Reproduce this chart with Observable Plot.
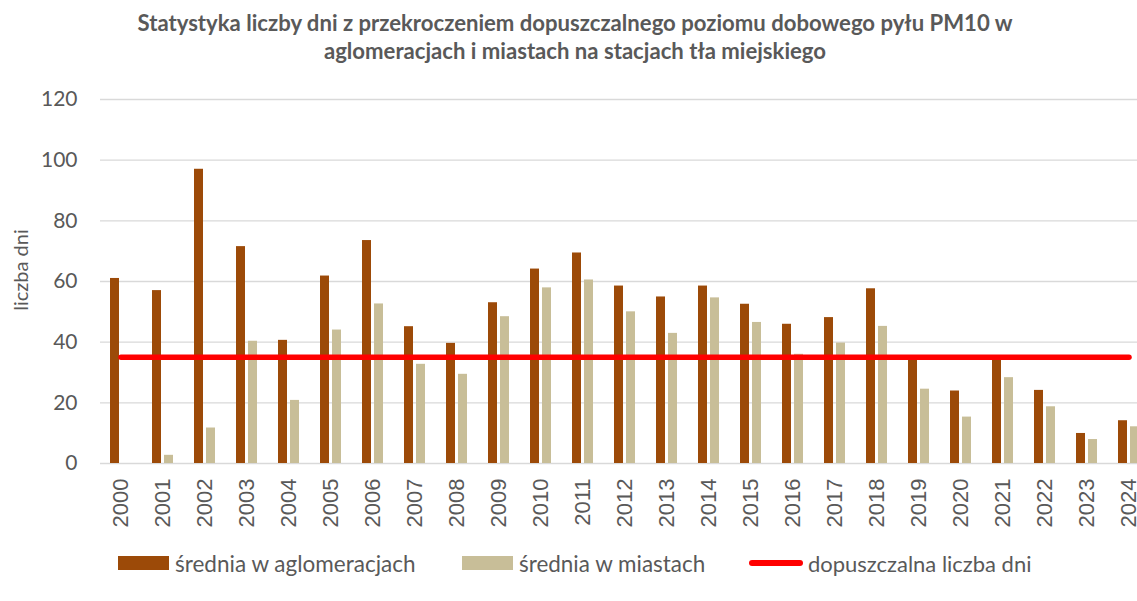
<!DOCTYPE html>
<html>
<head>
<meta charset="utf-8">
<script src="https://cdn.jsdelivr.net/npm/d3@7"></script>
<script src="https://cdn.jsdelivr.net/npm/@observablehq/plot@0.6"></script>
<style>
  html, body { margin: 0; padding: 0; overflow: hidden; background: #fff; width: 1137px; height: 601px; }
  #wrap { position: relative; width: 1137px; height: 601px; font-family: Lato, "Open Sans", sans-serif; color: #595959; overflow: hidden; }
  #title { position: absolute; left: 0; top: 9px; width: 1150px; text-align: center; font-weight: bold; font-size: 21px; line-height: 28px; }
  #title span { display: inline-block; white-space: nowrap; }
  #chart { position: absolute; left: 0; top: 70px; width: 1150px; }
  #chart svg { max-width: none !important; }
  #ylabel { position: absolute; left: -80px; top: 255px; width: 200px; height: 30px; line-height: 30px; text-align: center; white-space: nowrap; font-size: 20px; transform: rotate(-90deg); transform-origin: 100px 15px; }
  .leg { position: absolute; top: 551px; height: 24px; display: flex; align-items: center; font-size: 21px; white-space: nowrap; }
  .leg span { display: inline-block; }
  .sw { width: 51px; height: 14px; margin-right: 6px; flex: none; }
  .ln { width: 54px; height: 6px; border-radius: 3px; background: #ff0000; margin-right: 5px; flex: none; }
</style>
</head>
<body>
<div id="wrap">
  <div id="title"><span id="t1">Statystyka liczby dni z przekroczeniem dopuszczalnego poziomu dobowego pyłu PM10 w</span><br><span id="t2">aglomeracjach i miastach na stacjach tła miejskiego</span></div>
  <div id="chart"></div>
  <div id="ylabel">liczba dni</div>
  <div class="leg" style="left:118px"><div class="sw" style="background:#9C4A08"></div><span id="l1"></span></div>
  <div class="leg" style="left:462px"><div class="sw" style="background:#C8BE98"></div><span id="l2"></span></div>
  <div class="leg" style="left:749px"><div class="ln"></div><span id="l3"></span></div>
</div>
<script>
const years = [2000, 2001, 2002, 2003, 2004, 2005, 2006, 2007, 2008, 2009, 2010, 2011, 2012,
               2013, 2014, 2015, 2016, 2017, 2018, 2019, 2020, 2021, 2022, 2023, 2024];
const sredniaAglomeracje = [61, 57, 97, 71.5, 40.6, 61.8, 73.5, 45.1, 39.6, 53, 64.1, 69.4, 58.5,
                            54.9, 58.5, 52.5, 45.9, 48.1, 57.6, 35, 23.9, 35, 24.1, 9.9, 14.1];
const sredniaMiasta = [null, 2.7, 11.7, 40.3, 20.8, 44, 52.6, 32.7, 29.4, 48.4, 57.9, 60.5, 50,
                       42.9, 54.6, 46.5, 36, 39.7, 45.2, 24.5, 15.3, 28.3, 18.7, 7.9, 12.1];
const dopuszczalna = 35;
const yTicks = [0, 20, 40, 60, 80, 100, 120];
const seriesNames = ["średnia w aglomeracjach", "średnia w miastach", "dopuszczalna liczba dni"];

document.getElementById("l1").textContent = seriesNames[0];
document.getElementById("l2").textContent = seriesNames[1];
document.getElementById("l3").textContent = seriesNames[2];

// scale a text's font size so that its rendered width matches the reference
function fit(el, target, apply) {
  const fs = parseFloat(getComputedStyle(el).fontSize);
  const w = el.offsetWidth;
  if (w > 0) (apply || el).style.fontSize = (fs * target / w) + "px";
}
fit(document.getElementById("t1"), 875, document.getElementById("title"));
fit(document.getElementById("l1"), 240);
fit(document.getElementById("l2"), 186);
fit(document.getElementById("l3"), 224);

const aggData = years.map((year, i) => ({year, value: sredniaAglomeracje[i]}));
const miaData = years.map((year, i) => ({year, value: sredniaMiasta[i]})).filter(d => d.value != null);
const limData = years.map(year => ({year, value: dopuszczalna}));

const chart = Plot.plot({
  width: 1150,
  height: 470,
  marginLeft: 100,
  marginRight: 0,
  marginTop: 29,
  marginBottom: 77,
  style: {fontFamily: "Lato, 'Open Sans', sans-serif", color: "#595959", background: "transparent", overflow: "visible", maxWidth: "none"},
  x: {type: "band", domain: years, paddingInner: 0.774, paddingOuter: 0.387},
  y: {domain: [0, 120]},
  marks: [
    Plot.ruleY(yTicks, {stroke: "#d9d9d9", strokeWidth: 1.3}),
    Plot.barY(aggData, {x: "year", y: "value", fill: "#9C4A08", dx: -6}),
    Plot.barY(miaData, {x: "year", y: "value", fill: "#C8BE98", dx: 6}),
    Plot.lineY(limData, {x: "year", y: "value", stroke: "#ff0000", strokeWidth: 5.5, strokeLinecap: "round"}),
    Plot.axisY({ticks: yTicks, tickSize: 0, tickPadding: 23, fontSize: 21, label: null}),
    Plot.axisX({tickSize: 0, tickPadding: 15, tickRotate: -90, fontSize: 22, fontFamily: "'Liberation Sans', Arial, sans-serif", label: null, tickFormat: d => String(d)})
  ]
});
document.getElementById("chart").appendChild(chart);
</script>
</body>
</html>
